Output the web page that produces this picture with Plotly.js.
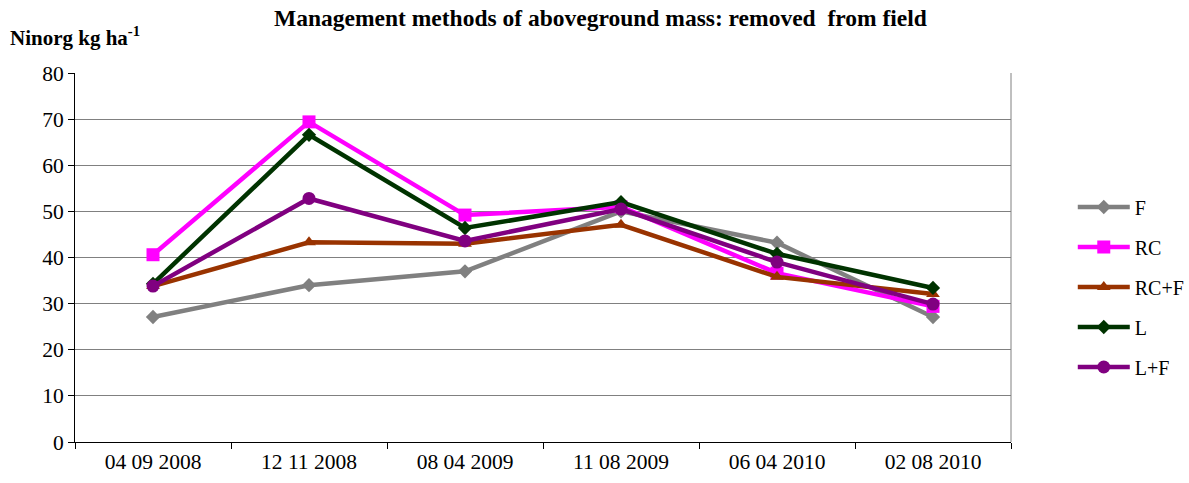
<!DOCTYPE html>
<html>
<head>
<meta charset="utf-8">
<script src="https://cdn.plot.ly/plotly-3.0.1.min.js"></script>
<style>html,body{margin:0;padding:0;background:#fff;}#chart{width:1189px;height:483px;}</style>
</head>
<body>
<div id="chart"></div>
<script>
const dates = ["04 09 2008", "12 11 2008", "08 04 2009", "11 08 2009", "06 04 2010", "02 08 2010"];
const seriesNames = ["F", "RC", "RC+F", "L", "L+F"];
const valuesF   = [27.1, 34.0, 37.0, 50.0, 43.2, 27.1];
const valuesRC  = [40.6, 69.4, 49.2, 51.0, 36.6, 29.4];
const valuesRCF = [33.8, 43.3, 43.0, 47.1, 35.8, 32.1];
const valuesL   = [34.3, 66.6, 46.4, 52.0, 40.8, 33.4];
const valuesLF  = [33.8, 52.8, 43.6, 50.5, 39.0, 29.9];
const yTicks = [0, 10, 20, 30, 40, 50, 60, 70, 80];

const colors = ["#808080", "#FF00FF", "#993300", "#003300", "#800080"];
const symbols = ["diamond", "square", "triangle-up", "diamond", "circle"];
const sizes = [11, 13, 12, 11, 13];
const allValues = [valuesF, valuesRC, valuesRCF, valuesL, valuesLF];

const traces = allValues.map((v, i) => ({
  type: "scatter",
  mode: "lines+markers",
  name: seriesNames[i],
  x: dates,
  y: v,
  legendgroup: "g" + i,
  line: {color: colors[i], width: 4.5},
  marker: {color: colors[i], symbol: symbols[i], size: sizes[i]}
}));

const serif = "Liberation Serif, Times New Roman, serif";
const layout = {
  width: 1189, height: 483,
  margin: {l: 75, r: 178, t: 73, b: 41, autoexpand: false},
  paper_bgcolor: "#fff", plot_bgcolor: "#fff",
  font: {family: serif, size: 21, color: "#000"},
  title: {text: "<b>Management methods of aboveground mass: removed  from field</b>",
          x: 0.505, xanchor: "center", y: 1 - 18/483, yanchor: "middle",
          font: {family: serif, size: 23.5, color: "#000"}},
  xaxis: {type: "category", tickson: "boundaries", ticks: "outside", ticklen: 6,
          tickcolor: "#000", showline: true, linecolor: "#000", linewidth: 1,
          showgrid: false, mirror: false, tickfont: {family: serif, size: 21.5},
          range: [-0.5, 5.5], automargin: false},
  yaxis: {range: [0, 80], tickvals: yTicks, ticks: "outside", ticklen: 6, tickcolor: "#000",
          showline: true, linecolor: "#000", linewidth: 1, showgrid: true,
          gridcolor: "#808080", gridwidth: 1, zeroline: false,
          tickfont: {family: serif, size: 21.5}, automargin: false},
  showlegend: true,
  legend: {x: 1.066, xanchor: "left", y: 0.42, yanchor: "middle",
           font: {family: serif, size: 20}, itemwidth: 52, tracegroupgap: 11,
           traceorder: "grouped", bgcolor: "rgba(0,0,0,0)"},
  shapes: [
    {type: "line", xref: "paper", yref: "paper", x0: 1, x1: 1, y0: 0, y1: 1,
     line: {color: "#808080", width: 1}}
  ],
  annotations: [
    {text: "<b>Ninorg kg ha<sup>-1</sup></b>", xref: "paper", yref: "paper",
     x: (8 - 75) / 936, xanchor: "left", y: (442 - 37) / 369, yanchor: "middle",
     showarrow: false, font: {family: serif, size: 21, color: "#000"}}
  ]
};

Plotly.newPlot("chart", traces, layout, {displayModeBar: false, staticPlot: true});
</script>
</body>
</html>
